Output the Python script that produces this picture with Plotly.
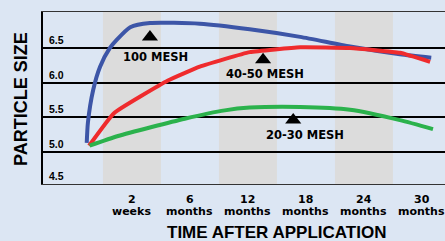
import plotly.graph_objects as go

# ---- data ----
y_tick_vals = [4.5, 5.0, 5.5, 6.0, 6.5]
y_tick_text = ["4.5", "5.0", "5.5", "6.0", "6.5"]
x_tick_vals = [1.5, 2.5, 3.5, 4.5, 5.5, 6.5]
x_tick_num = ["2", "6", "12", "18", "24", "30"]
x_tick_unit = ["weeks", "months", "months", "months", "months", "months"]

blue_x = [0.72, 0.74, 0.83, 0.95, 1.12, 1.24, 1.47, 1.81, 2.67, 3.53, 4.40, 5.26, 6.12, 6.66]
blue_y = [5.13, 5.42, 5.89, 6.23, 6.50, 6.62, 6.80, 6.86, 6.85, 6.77, 6.66, 6.52, 6.41, 6.36]

red_x = [0.76, 1.19, 2.12, 2.67, 3.53, 4.40, 5.26, 6.12, 6.64]
red_y = [5.09, 5.56, 6.03, 6.23, 6.44, 6.51, 6.50, 6.43, 6.30]

green_x = [0.77, 1.26, 1.84, 2.41, 3.10, 3.53, 4.40, 5.26, 6.12, 6.69]
green_y = [5.09, 5.23, 5.36, 5.48, 5.60, 5.64, 5.65, 5.61, 5.46, 5.33]

mesh_labels = ["100 MESH", "40-50 MESH", "20-30 MESH"]
marker_x = [1.81, 3.76, 4.28]
marker_y = [6.66, 6.33, 5.46]
label_x = [1.90, 3.79, 4.48]
label_y = [6.37, 6.12, 5.25]

band_starts = [1, 3, 5]

BG = "#dce6f3"
BAND = "#dcdcdc"
Y_RANGE = [4.538, 7.019]
PLOT_H = 172  # px height of plotting area

fig = go.Figure()
fig.add_trace(go.Scatter(x=blue_x, y=blue_y, mode="lines",
                         line=dict(color="#3c55a7", width=4, shape="spline", smoothing=0.6)))
fig.add_trace(go.Scatter(x=red_x, y=red_y, mode="lines",
                         line=dict(color="#ef2b2d", width=4, shape="spline", smoothing=0.35)))
fig.add_trace(go.Scatter(x=green_x, y=green_y, mode="lines",
                         line=dict(color="#2bb24c", width=4, shape="spline", smoothing=0.6)))
fig.add_trace(go.Scatter(x=marker_x, y=marker_y, mode="markers",
                         marker=dict(symbol="triangle-up", size=14, color="black")))

for s in band_starts:
    fig.add_shape(type="rect", xref="x", yref="paper", x0=s, x1=s + 1, y0=0, y1=1,
                  fillcolor=BAND, line=dict(width=0), layer="below")

for v, t in zip(y_tick_vals, y_tick_text):
    yp = (max(v, Y_RANGE[0]) - Y_RANGE[0]) / (Y_RANGE[1] - Y_RANGE[0])
    fig.add_annotation(xref="paper", yref="paper", x=0, y=yp, xshift=4, text=t, showarrow=False,
                       xanchor="left", yanchor="bottom",
                       font=dict(family="Liberation Sans", size=10.5, color="black", weight="bold"))

tick_font = dict(family="DejaVu Sans", size=11, color="black", weight="bold")
for v, n, u in zip(x_tick_vals, x_tick_num, x_tick_unit):
    fig.add_annotation(xref="x", yref="paper", x=v, y=0, yshift=-15, text=n, showarrow=False,
                       xanchor="center", yanchor="middle", font=tick_font)
    fig.add_annotation(xref="x", yref="paper", x=v, y=0, yshift=-27, text=u, showarrow=False,
                       xanchor="center", yanchor="middle", font=tick_font)

for t, x, y in zip(mesh_labels, label_x, label_y):
    fig.add_annotation(x=x, y=y, text=t, showarrow=False,
                       font=dict(family="DejaVu Sans", size=11.5, color="black", weight="bold"))

fig.add_annotation(xref="paper", yref="paper", x=(276 - 43) / 402, y=-(232.5 - 184) / PLOT_H,
                   text="TIME AFTER APPLICATION", showarrow=False, xanchor="center", yanchor="middle",
                   font=dict(family="Liberation Sans", size=17, color="black", weight="bold"))
fig.add_annotation(xref="paper", yref="paper", x=-(43 - 21) / 402, y=(184 - 99) / PLOT_H,
                   text="PARTICLE SIZE", showarrow=False, textangle=-90,
                   xanchor="center", yanchor="middle",
                   font=dict(family="Liberation Sans", size=18, color="black", weight="bold"))

fig.update_layout(
    template="none",
    width=445, height=241,
    margin=dict(l=43, r=0, t=12, b=57, autoexpand=False),
    paper_bgcolor=BG, plot_bgcolor=BG,
    showlegend=False,
    xaxis=dict(range=[-0.034, 6.897], showticklabels=False,
               automargin=False,
               showgrid=False, zeroline=False, showline=True, mirror=True,
               linecolor="#333333", linewidth=1, ticks=""),
    yaxis=dict(range=Y_RANGE, tickvals=y_tick_vals[1:], showticklabels=False,
               automargin=False,
               showgrid=True, gridcolor="black", gridwidth=2, zeroline=False,
               showline=True, linecolor="black", linewidth=1.5, ticks=""),
)

fig.write_html("out.html", config={"displayModeBar": False},
               post_script="document.body.style.margin='0';document.body.style.overflow='hidden';")
